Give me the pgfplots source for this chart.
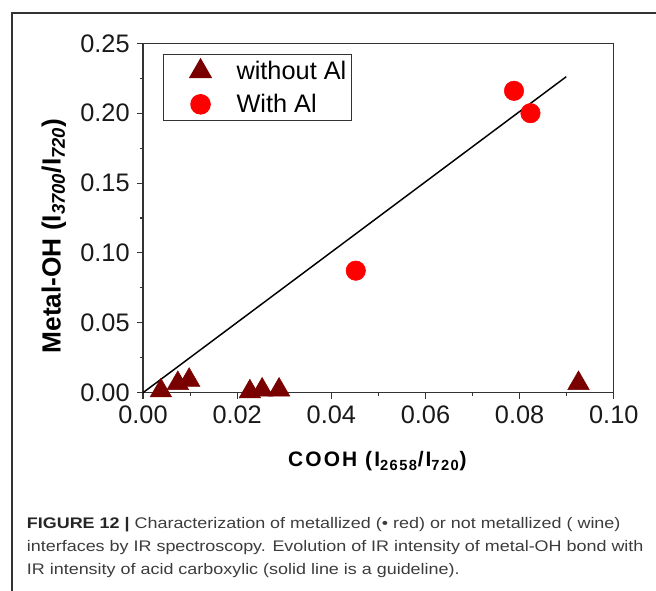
\documentclass[border=0pt]{standalone}
\usepackage{pgfplots}
\pgfplotsset{compat=1.18}
\usepackage{fontspec}
\setmainfont{Liberation Sans}
\newfontfamily\capfont[FakeStretch=1.17]{Liberation Sans}
\definecolor{wine}{HTML}{7A0000}
\definecolor{axgray}{HTML}{333333}
\definecolor{capgray}{HTML}{3C3C3C}
\begin{document}
\begin{tikzpicture}
\useasboundingbox (0,0) rectangle (492pt,443.25pt);
\draw[axgray, line width=0.9pt] (9pt,0pt) -- (9pt,433.5pt) -- (492pt,433.5pt);
\begin{axis}[
  at={(107.25pt,148.725pt)}, anchor=south west,
  scale only axis, width=353.1pt, height=262.05pt,
  xmin=0, xmax=0.1, ymin=0, ymax=0.25,
  clip=false,
  xtick={0,0.02,0.04,0.06,0.08,0.1},
  ytick={0,0.05,0.1,0.15,0.2,0.25},
  minor xtick={0.01,0.03,0.05,0.07,0.09},
  minor ytick={0.025,0.075,0.125,0.175,0.225},
  tick align=outside, tick pos=left,
  major tick length=4.5pt, minor tick length=2.5pt,
  every tick/.style={axgray, line width=0.8pt},
  axis line style={axgray, line width=0.8pt},
  scaled ticks=false,
  xticklabel style={/pgf/number format/fixed, /pgf/number format/fixed zerofill, /pgf/number format/precision=2, yshift=-2pt},
  yticklabel style={/pgf/number format/fixed, /pgf/number format/fixed zerofill, /pgf/number format/precision=2, xshift=-2pt},
  /pgf/number format/assume math mode=true,
  tick label style={font=\fontsize{19}{19}\selectfont, text=black!90},
  xlabel={\addfontfeature{LetterSpace=10}\textbf{COOH (I\textsubscript{2658}/I\textsubscript{720})}},
  xlabel style={font=\fontsize{15.7}{16}\selectfont, at={(axis description cs:0.5,-0.2118)}, anchor=base, inner sep=0pt},
  ylabel={\textbf{Metal-OH (I\textsubscript{\textit{3700}}/I\textsubscript{\textit{720}})}},
  ylabel style={font=\fontsize{19.7}{20}\selectfont, at={(axis description cs:-0.1748,0.4485)}, anchor=base, inner sep=0pt},
  legend style={at={(axis description cs:0.0425,0.9685)}, anchor=north west, draw=axgray, line width=0.8pt, inner sep=0pt, font=\fontsize{19}{19}\selectfont, nodes={inner sep=0pt}, row sep=0pt, column sep=0pt},
  legend cell align=left,
  legend image code/.code={\path[draw=none, fill=none] (0pt,-12.375pt) rectangle (54.75pt,12.375pt); \draw[#1] plot coordinates {(27.75pt,0pt)};},
]
\addplot[only marks, mark=triangle*, mark size=9.3pt, color=wine, mark options={draw=none, fill=wine}] coordinates {
 (0.0038,0.0014) (0.0074,0.0067) (0.0098,0.0090)
 (0.0227,0.0007) (0.0253,0.0020) (0.0289,0.0020)
 (0.0925,0.0067)
};
\addplot[only marks, mark=*, mark size=7.3pt, color=red, mark options={draw=none, fill=red}] coordinates {
 (0.0452,0.0873) (0.0788,0.2160) (0.0823,0.2000)
};
\addplot[black, line width=1.1pt, mark=none] coordinates {(0,0) (0.0899,0.2261)};
\legend{without Al\hspace*{3.75pt}, With Al}
\end{axis}
\node[anchor=base west, inner sep=0pt, font=\capfont\fontsize{11.5}{13}\selectfont, text=capgray] at (20pt,46.5pt) {{\color{black!85}\textbf{FIGURE 12 |}} Characterization of metallized (• red) or not metallized ( wine)};
\node[anchor=base west, inner sep=0pt, font=\capfont\fontsize{11.5}{13}\selectfont, text=capgray] at (20pt,29.25pt) {interfaces by IR spectroscopy. Evolution of IR intensity of metal-OH bond with};
\node[anchor=base west, inner sep=0pt, font=\capfont\fontsize{11.5}{13}\selectfont, text=capgray] at (20pt,12pt) {IR intensity of acid carboxylic (solid line is a guideline).};
\end{tikzpicture}
\end{document}
